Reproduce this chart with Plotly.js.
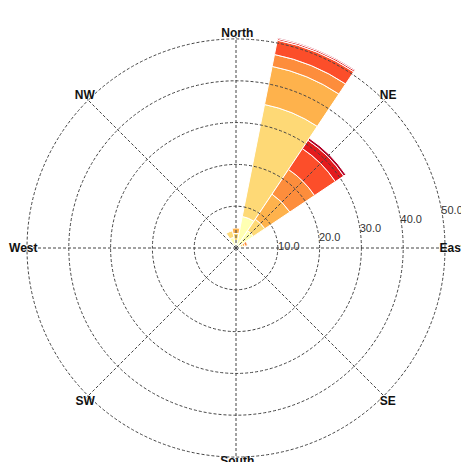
<!DOCTYPE html>
<html><head><meta charset="utf-8">
<script src="https://cdn.plot.ly/plotly-3.0.1.min.js"></script>
<style>html,body{margin:0;padding:0;background:#fff}#chart{width:461px;height:462px}</style>
</head><body><div id="chart"></div>
<script>
// Wind directions (16-point compass)
const directions = ['N','NNE','NE','ENE','E','ESE','SE','SSE','S','SSW','SW','WSW','W','WNW','NW','NNW'];
// Speed bins (stack order, inner to outer)
const speedBins = ['< 0.5 m/s','0.5-2 m/s','2-4 m/s','4-6 m/s','6-8 m/s','8-10 m/s','> 10 m/s'];
// Frequency (%) per direction for each speed bin
const bin1 = [1.8, 7.7, 5.0, 1.2, 0, 0, 0, 0, 0, 0, 0, 0, 0, 0, 0, 2.6];
const bin2 = [1.7, 27.3, 3.3, 0.5, 0, 0, 0, 0, 0, 0, 0, 0, 0, 0, 0, 1.6];
const bin3 = [1.3, 9.3, 7.2, 0.5, 0, 0, 0, 0, 0, 0, 0, 0, 0, 0, 0, 0];
const bin4 = [0, 2.9, 7.1, 0.6, 0, 0, 0, 0, 0, 0, 0, 0, 0, 0, 0, 0];
const bin5 = [0, 3.5, 6.0, 0, 0, 0, 0, 0, 0, 0, 0, 0, 0, 0, 0, 0];
const bin6 = [0, 0.4, 2.4, 0, 0, 0, 0, 0, 0, 0, 0, 0, 0, 0, 0, 0];
const bin7 = [0, 0.2, 0.6, 0, 0, 0, 0, 0, 0, 0, 0, 0, 0, 0, 0, 0];
const binColors = ['#ffffb2','#fed976','#feb24c','#fd8d3c','#fc4e2a','#e31a1c','#b10026'];
// Compass tick labels
const compassVals = [0, 45, 90, 135, 180, 225, 270, 315];
const compassText = ['North','NE','East','SE','South','SW','West','NW'];
// Radial tick values
const radialTicks = [10, 20, 30, 40, 50];

const series = [bin1, bin2, bin3, bin4, bin5, bin6, bin7];

const W = 461, H = 462, cx = 236, cy = 248, pxPerUnit = 4.18;
function dom(R, x0 = cx, y0 = cy) {
  return {x: [(x0 - R) / W, (x0 + R) / W], y: [Math.max(0, (H - y0 - R) / H), Math.min(1, (H - y0 + R) / H)]};
}
const gridMax = 50.5;
const barMax = (H - cy) / pxPerUnit;

const FONT = 'Liberation Sans, Arial, Helvetica, sans-serif';
const gridColor = '#444';
const gridDash = '3px,2px';

const data = series.map((vals, i) => ({
  type: 'barpolar', r: vals, theta: directions, name: speedBins[i],
  marker: {color: binColors[i], line: {color: '#ffffff', width: 1}},
  subplot: 'polar', showlegend: false
}));

const layout = {
  width: W, height: H,
  margin: {l: 0, r: 0, t: 0, b: 0},
  paper_bgcolor: '#ffffff',
  showlegend: false,
  font: {family: FONT, color: '#333'},
  polar: {
    domain: dom(barMax * pxPerUnit), bgcolor: 'rgba(0,0,0,0)', barmode: 'stack', bargap: 0,
    radialaxis: {range: [0, barMax], visible: false},
    angularaxis: {type: 'category', categoryarray: directions, rotation: 90, direction: 'clockwise', visible: false}
  },
  polar2: {
    domain: dom(gridMax * pxPerUnit), bgcolor: 'rgba(0,0,0,0)',
    radialaxis: {
      range: [0, gridMax], tickmode: 'array', tickvals: radialTicks, tickformat: '.1f',
      angle: 12.5, tickangle: 12.5, showline: false, ticks: '',
      gridcolor: gridColor, griddash: gridDash, gridwidth: 1,
      tickfont: {family: FONT, size: 11, color: '#333'}
    },
    angularaxis: {
      type: 'linear', rotation: 90, direction: 'clockwise', tickmode: 'array', tickvals: compassVals,
      showticklabels: false, showline: false, ticks: '',
      gridcolor: gridColor, griddash: gridDash, gridwidth: 1
    }
  }
};
data.push({type: 'scatterpolar', r: [], theta: [], subplot: 'polar2', hoverinfo: 'skip', showlegend: false});

// Compass labels in three groups (upper, sides, lower) so each sits where the reference places it
const labelGroups = [
  {id: 'polar3', keep: v => v === 0 || v === 45 || v === 315, x0: 237.25, y0: 240.5, R: 201},
  {id: 'polar4', keep: v => v === 90 || v === 270, x0: 238.5, y0: 248, R: 200.5},
  {id: 'polar5', keep: v => v === 135 || v === 180 || v === 225, x0: 237.25, y0: 251.5, R: 201}
];
labelGroups.forEach(g => {
  const vals = compassVals.filter(g.keep);
  const txt = compassVals.map((v, i) => compassText[i]).filter((t, i) => g.keep(compassVals[i]));
  layout[g.id] = {
    domain: dom(g.R, g.x0, g.y0), bgcolor: 'rgba(0,0,0,0)',
    radialaxis: {visible: false},
    angularaxis: {
      type: 'linear', rotation: 90, direction: 'clockwise', tickmode: 'array',
      tickvals: vals, ticktext: txt,
      showgrid: false, showline: false, ticks: '',
      tickfont: {family: FONT, size: 12, color: '#111', weight: 'bold'}
    }
  };
  data.push({type: 'scatterpolar', r: [], theta: [], subplot: g.id, hoverinfo: 'skip', showlegend: false});
});

Plotly.newPlot('chart', data, layout, {displayModeBar: false, staticPlot: true});
</script>
</body></html>
